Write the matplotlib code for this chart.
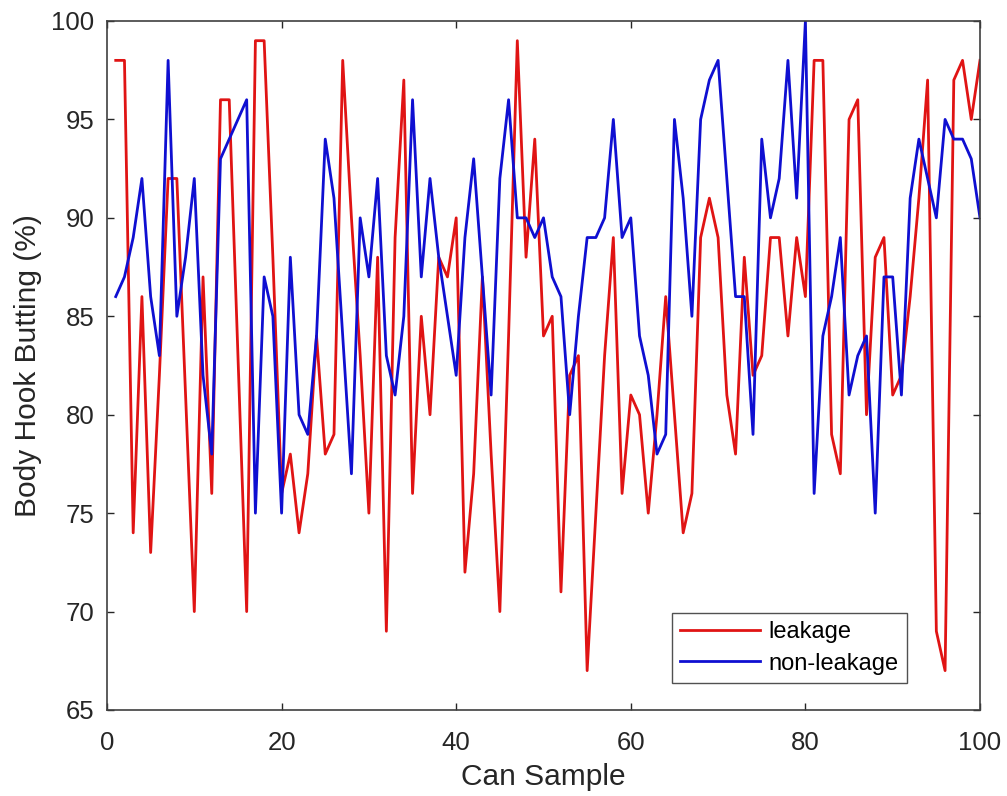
import matplotlib
matplotlib.use("Agg")
import matplotlib.pyplot as plt

plt.rcParams['font.family'] = ['Liberation Sans', 'DejaVu Sans']

samples = list(range(1, 101))
leakage = [98, 98, 74, 86, 73, 82, 92, 92, 81, 70,
           87, 76, 96, 96, 83, 70, 99, 99, 88, 76,
           78, 74, 77, 84, 78, 79, 98, 90, 83, 75,
           88, 69, 89, 97, 76, 85, 80, 88, 87, 90,
           72, 77, 87, 78, 70, 84, 99, 88, 94, 84,
           85, 71, 82, 83, 67, 75, 83, 89, 76, 81,
           80, 75, 80, 86, 80, 74, 76, 89, 91, 89,
           81, 78, 88, 82, 83, 89, 89, 84, 89, 86,
           98, 98, 79, 77, 95, 96, 80, 88, 89, 81,
           82, 86, 91, 97, 69, 67, 97, 98, 95, 98]
non_leakage = [86, 87, 89, 92, 86, 83, 98, 85, 88, 92,
               82, 78, 93, 94, 95, 96, 75, 87, 85, 75,
               88, 80, 79, 84, 94, 91, 84, 77, 90, 87,
               92, 83, 81, 85, 96, 87, 92, 88, 85, 82,
               89, 93, 87, 81, 92, 96, 90, 90, 89, 90,
               87, 86, 80, 85, 89, 89, 90, 95, 89, 90,
               84, 82, 78, 79, 95, 91, 85, 95, 97, 98,
               92, 86, 86, 79, 94, 90, 92, 98, 91, 100,
               76, 84, 86, 89, 81, 83, 84, 75, 87, 87,
               81, 91, 94, 92, 90, 95, 94, 94, 93, 90]
x_ticks = [0, 20, 40, 60, 80, 100]
y_ticks = [65, 70, 75, 80, 85, 90, 95, 100]

W, H = 1007, 796
fig = plt.figure(figsize=(W / 100, H / 100), dpi=100)
ax = fig.add_axes([107 / W, (H - 710) / H, (980 - 107) / W, (710 - 21) / H])

ax.plot(samples, leakage, color=(0.88, 0.08, 0.08), lw=2.0, label='leakage')
ax.plot(samples, non_leakage, color=(0.06, 0.06, 0.82), lw=2.0, label='non-leakage')

ax.set_xlim(0, 100)
ax.set_ylim(65, 100)
ax.set_xticks(x_ticks)
ax.set_yticks(y_ticks)
ax.tick_params(direction='in', top=True, right=True, length=5, width=1,
               labelsize=18.5, colors='#262626')
ax.tick_params(axis='x', pad=15)
ax.tick_params(axis='y', pad=9)
for s in ax.spines.values():
    s.set_color('#404040')
    s.set_linewidth(1.2)

ax.set_xlabel('Can Sample', fontsize=21.5, color='#262626', labelpad=6)
ax.set_ylabel('Body Hook Butting (%)', fontsize=21.5, color='#262626', labelpad=7)

leg = ax.legend(loc='lower right', bbox_to_anchor=((907 - 107) / (980 - 107), (710 - 683) / (710 - 21)),
                fontsize=17, frameon=True, fancybox=False, edgecolor='#262626',
                handlelength=3.4, borderpad=0.35, labelspacing=0.4, handletextpad=0.35,
                borderaxespad=0)
leg.get_frame().set_linewidth(1.0)

fig.savefig('out.png', dpi=100)
